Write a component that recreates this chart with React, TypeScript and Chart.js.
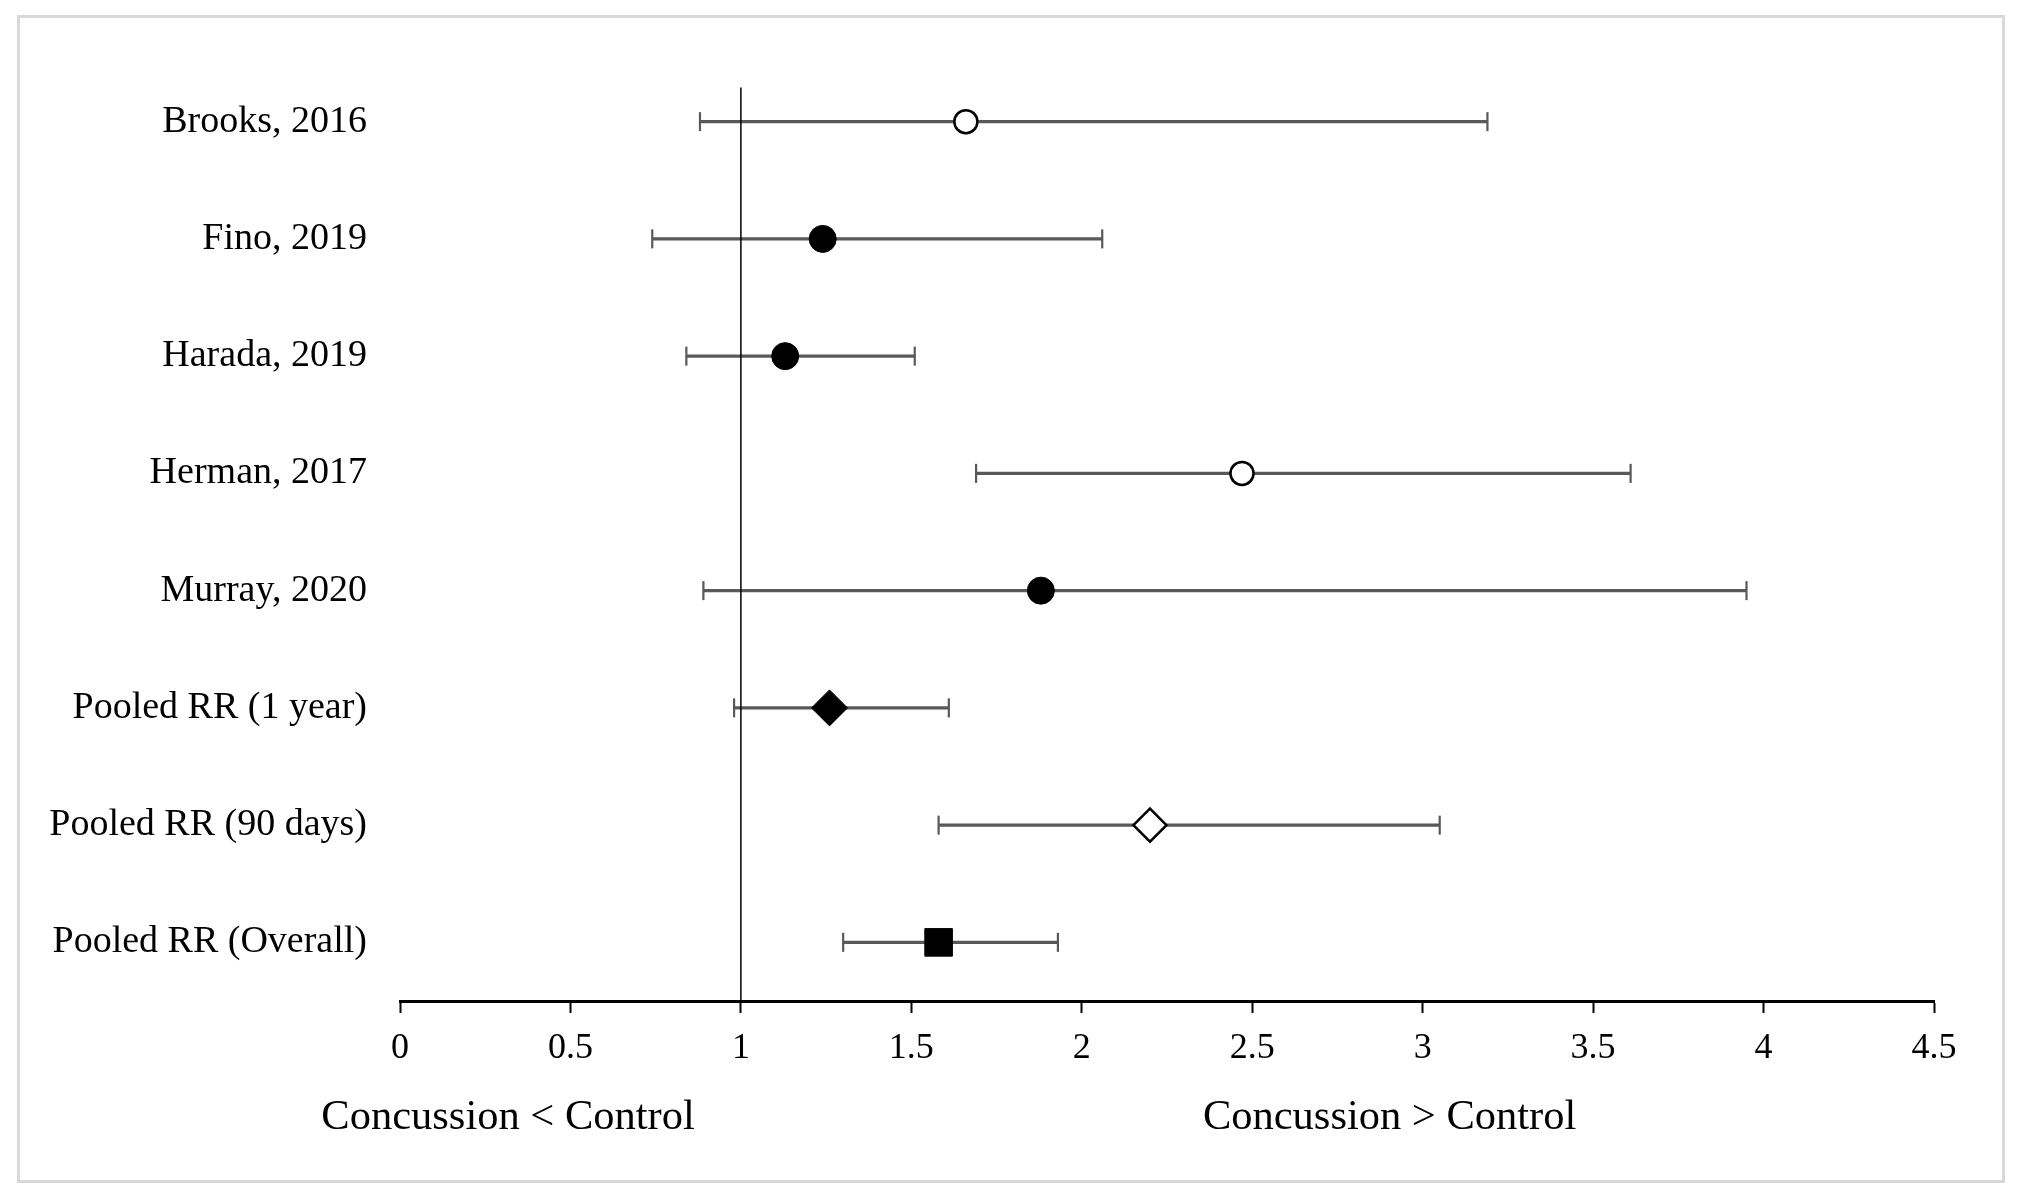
import React, { useEffect, useRef } from "react";
import { Chart, registerables } from "chart.js";

Chart.register(...registerables);

// ---- Data ----
const CATEGORIES = [
  "Brooks, 2016",
  "Fino, 2019",
  "Harada, 2019",
  "Herman, 2017",
  "Murray, 2020",
  "Pooled RR (1 year)",
  "Pooled RR (90 days)",
  "Pooled RR (Overall)",
];
const RR = [1.66, 1.24, 1.13, 2.47, 1.88, 1.26, 2.2, 1.58];
const CI_LOW = [0.88, 0.74, 0.84, 1.69, 0.89, 0.98, 1.58, 1.3];
const CI_HIGH = [3.19, 2.06, 1.51, 3.61, 3.95, 1.61, 3.05, 1.93];
const MARKERS = [
  "openCircle",
  "filledCircle",
  "filledCircle",
  "openCircle",
  "filledCircle",
  "filledDiamond",
  "openDiamond",
  "filledSquare",
];
const X_MIN = 0;
const X_MAX = 4.5;
const X_STEP = 0.5;
const REF_VALUE = 1;
const REF_LINE_TOP = -0.29;
const LOW_LABEL = "Concussion < Control";
const HIGH_LABEL = "Concussion > Control";
const LOW_LABEL_AT = 0.317;
const HIGH_LABEL_AT = 2.903;

// ---- Styles ----
const FONT = "'Liberation Serif', 'Times New Roman', serif";
const BAR_COLOR = "#595959";
const MARKER_STYLE: Record<string, any> = {
  openCircle: { style: "circle", r: 11.5, bg: "#ffffff", bc: "#000000", bw: 2.5 },
  filledCircle: { style: "circle", r: 13.5, bg: "#000000", bc: "#000000", bw: 1 },
  filledDiamond: { style: "rectRot", r: 18, bg: "#000000", bc: "#000000", bw: 1 },
  openDiamond: { style: "rectRot", r: 16.5, bg: "#ffffff", bc: "#000000", bw: 2.5 },
  filledSquare: { style: "rect", r: 19.5, bg: "#000000", bc: "#000000", bw: 1 },
};

const sideLabels = {
  id: "sideLabels",
  afterDraw(chart: any) {
    const { ctx, scales } = chart;
    const x = scales.x;
    ctx.save();
    ctx.font = `42.5px ${FONT}`;
    ctx.fillStyle = "#000";
    ctx.textAlign = "center";
    ctx.textBaseline = "alphabetic";
    const y = x.bottom - 69;
    ctx.fillText(LOW_LABEL, x.getPixelForValue(LOW_LABEL_AT), y);
    ctx.fillText(HIGH_LABEL, x.getPixelForValue(HIGH_LABEL_AT), y);
    ctx.restore();
  },
};

export default function App() {
  const canvasRef = useRef<HTMLCanvasElement | null>(null);

  useEffect(() => {
    if (!canvasRef.current) return;

    const errorBars = CATEGORIES.map((_, i) => ({
      type: "scatter",
      data: [
        { x: CI_LOW[i], y: i },
        { x: CI_HIGH[i], y: i },
      ],
      showLine: true,
      borderColor: BAR_COLOR,
      borderWidth: 3.2,
      pointStyle: "line",
      pointRotation: 90,
      pointRadius: 9.5,
      pointBorderWidth: 2.2,
      pointBorderColor: BAR_COLOR,
      pointBackgroundColor: BAR_COLOR,
      order: 2,
    }));

    const refLine = {
      type: "scatter",
      data: [
        { x: REF_VALUE, y: REF_LINE_TOP },
        { x: REF_VALUE, y: CATEGORIES.length - 0.5 },
      ],
      showLine: true,
      borderColor: "#000000",
      borderWidth: 1.5,
      pointRadius: 0,
      order: 1,
    };

    const points = {
      type: "scatter",
      data: RR.map((v, i) => ({ x: v, y: i })),
      pointStyle: MARKERS.map((m) => MARKER_STYLE[m].style),
      pointRadius: MARKERS.map((m) => MARKER_STYLE[m].r),
      pointBackgroundColor: MARKERS.map((m) => MARKER_STYLE[m].bg),
      pointBorderColor: MARKERS.map((m) => MARKER_STYLE[m].bc),
      pointBorderWidth: MARKERS.map((m) => MARKER_STYLE[m].bw),
      showLine: false,
      order: 0,
    };

    const chart = new Chart(canvasRef.current, {
      type: "scatter",
      data: { datasets: [...errorBars, refLine, points] as any },
      plugins: [sideLabels],
      options: {
        animation: false,
        responsive: false,
        events: [],
        layout: { padding: { top: 63, right: 88, left: 0, bottom: 0 } },
        plugins: {
          legend: { display: false },
          tooltip: { enabled: false },
          title: { display: false },
        },
        scales: {
          x: {
            type: "linear",
            min: X_MIN,
            max: X_MAX,
            ticks: {
              stepSize: X_STEP,
              color: "#000",
              font: { family: FONT, size: 36 },
              padding: 14,
              maxRotation: 0,
              autoSkip: false,
              callback: (v: any) => String(v),
            },
            grid: {
              display: true,
              drawOnChartArea: false,
              drawTicks: true,
              tickLength: 12,
              tickWidth: 2,
              tickColor: "#000",
            },
            border: { display: true, color: "#000", width: 3 },
            afterFit: (s: any) => {
              s.height = 197;
            },
          },
          y: {
            type: "linear",
            reverse: true,
            min: -0.5,
            max: CATEGORIES.length - 0.5,
            afterBuildTicks: (s: any) => {
              s.ticks = CATEGORIES.map((_, i) => ({ value: i }));
            },
            ticks: {
              autoSkip: false,
              color: "#000",
              font: { family: FONT, size: 38 },
              padding: 33,
              callback: (v: any) => CATEGORIES[v] ?? "",
            },
            grid: { display: false, drawTicks: false },
            border: { display: false },
            afterFit: (s: any) => {
              s.width = 400;
            },
          },
        },
      } as any,
    });

    return () => chart.destroy();
  }, []);

  return (
    <div
      style={{
        position: "fixed",
        left: 0,
        top: 0,
        width: 2022,
        height: 1198,
        background: "#ffffff",
      }}
    >
      <canvas
        ref={canvasRef}
        width={2022}
        height={1198}
        style={{ display: "block", position: "absolute", left: 0, top: 0 }}
      />
      <div
        style={{
          position: "absolute",
          left: 17,
          top: 15,
          width: 1988,
          height: 1168,
          border: "3px solid #d9d9d9",
          boxSizing: "border-box",
          pointerEvents: "none",
        }}
      />
    </div>
  );
}
